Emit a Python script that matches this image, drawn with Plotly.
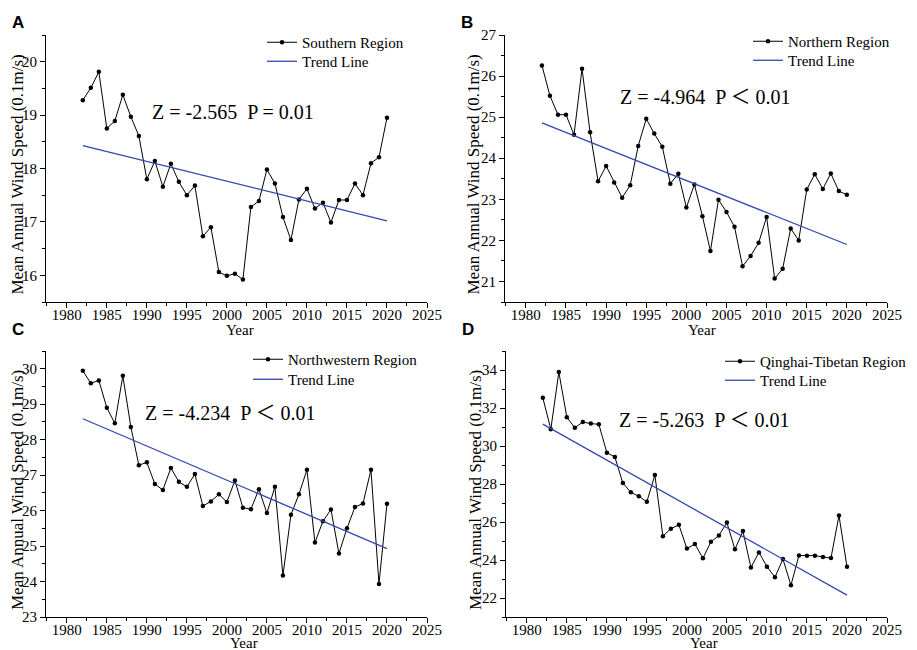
import plotly.graph_objects as go

years = list(range(1982, 2021))

southern = [19.28, 19.51, 19.81, 18.75, 18.89, 19.38, 18.97, 18.61, 17.80, 18.14,
            17.66, 18.09, 17.75, 17.50, 17.68, 16.73, 16.90, 16.06, 15.99, 16.03,
            15.92, 17.28, 17.39, 17.98, 17.72, 17.09, 16.66, 17.42, 17.62, 17.25,
            17.36, 16.99, 17.41, 17.41, 17.72, 17.50, 18.10, 18.21, 18.95]
northern = [26.26, 25.52, 25.06, 25.06, 24.57, 26.18, 24.63, 23.44, 23.81, 23.41,
            23.04, 23.34, 24.30, 24.96, 24.60, 24.28, 23.38, 23.62, 22.80, 23.36,
            22.59, 21.74, 22.99, 22.69, 22.33, 21.37, 21.62, 21.94, 22.57, 21.07,
            21.31, 22.29, 22.00, 23.24, 23.61, 23.25, 23.63, 23.20, 23.11]
northwestern = [29.94, 29.59, 29.67, 28.90, 28.46, 29.80, 28.36, 27.28, 27.36, 26.75,
                26.58, 27.20, 26.81, 26.67, 27.03, 26.13, 26.26, 26.46, 26.24, 26.85,
                26.08, 26.04, 26.60, 25.93, 26.67, 24.17, 25.88, 26.46, 27.15, 25.10,
                25.70, 26.03, 24.79, 25.50, 26.10, 26.20, 27.15, 23.93, 26.19]
qinghai = [32.54, 30.88, 33.89, 31.51, 30.96, 31.26, 31.18, 31.14, 29.65, 29.42,
           28.05, 27.56, 27.35, 27.07, 28.47, 25.25, 25.65, 25.85, 24.60, 24.84,
           24.09, 24.96, 25.29, 25.97, 24.56, 25.52, 23.60, 24.40, 23.65, 23.09,
           24.05, 22.67, 24.24, 24.23, 24.23, 24.16, 24.10, 26.34, 23.65]

trend_years = [1982, 2020]
trend_southern = [18.43, 17.02]
trend_northern = [24.86, 21.90]
trend_northwestern = [28.59, 24.93]
trend_qinghai = [31.15, 22.15]

region_names = ["Southern Region", "Northern Region", "Northwestern Region", "Qinghai-Tibetan Region"]
stat_texts = ["Z = -2.565\u00a0\u00a0P = 0.01", "Z = -4.964\u00a0\u00a0P ＜ 0.01",
              "Z = -4.234\u00a0\u00a0P ＜ 0.01", "Z = -5.263\u00a0\u00a0P ＜ 0.01"]
panel_letters = ["A", "B", "C", "D"]
x_ticks = [1980, 1985, 1990, 1995, 2000, 2005, 2010, 2015, 2020, 2025]
y_ranges = [[15.5, 20.5], [20.5, 27], [23, 30.5], [21, 35]]
y_dticks = [1, 1, 1, 2]

# the page body has an 8px margin, so the figure is drawn 8px smaller and offset
OFF = 8
W, H = 917 - OFF, 650 - OFF
SERIF = "Liberation Serif, Times New Roman, Noto Sans CJK SC, serif"
SANS = "Liberation Sans, Arial, sans-serif"
BLUE = "#3446B0"

def px(x):
    return (x - OFF) / W

def py(y):
    return 1 - (y - OFF) / H

# panel geometry in window pixels: (left, right, top, bottom)
geoms = [(46, 427, 35, 302), (505, 887, 35, 302), (46, 427, 351, 617), (506, 887, 351, 617)]

series = [southern, northern, northwestern, qinghai]
trends = [trend_southern, trend_northern, trend_northwestern, trend_qinghai]

fig = go.Figure()
layout = dict(width=W, height=H, margin=dict(l=0, r=0, t=0, b=0),
              paper_bgcolor="white", plot_bgcolor="white", showlegend=True,
              font=dict(family=SERIF, color="black"))
annotations = []

legend_x = [262, 748, 248, 720]
legend_rows = [(43, 62), (42, 61), (360, 380), (362, 381)]
ytitle_x = [17, 473, 17, 475]
year_x = [240, 702, 244, 704]
year_y = [330, 330, 643, 643]
letter_pos = [(18, 23), (467, 23), (18, 330), (468, 330)]
stat_pos = [(150, 112), (618, 97), (143, 413), (617, 420)]

for i in range(4):
    sfx = "" if i == 0 else str(i + 1)
    lg1 = "legend" + sfx
    lg2 = "legend" + str(i + 5)
    xa, ya = "x" + sfx, "y" + sfx
    fig.add_trace(go.Scatter(x=years, y=series[i], mode="lines+markers",
                             name=region_names[i], xaxis=xa, yaxis=ya, legend=lg1,
                             line=dict(color="black", width=1),
                             marker=dict(color="black", size=4.5)))
    fig.add_trace(go.Scatter(x=trend_years, y=trends[i], mode="lines",
                             name="Trend Line", xaxis=xa, yaxis=ya, legend=lg2,
                             line=dict(color=BLUE, width=1.3)))
    l, r, t, b = geoms[i]
    layout["xaxis" + sfx] = dict(domain=[px(l), px(r)], anchor=ya, range=[1977.4, 2025],
                                 tickvals=x_ticks, ticks="outside", ticklen=5, tickwidth=1,
                                 tickcolor="black", showline=True, linecolor="black",
                                 linewidth=1, showgrid=False, zeroline=False,
                                 ticklabelstandoff=-6,
                                 tickfont=dict(family=SERIF, size=15, color="black"),
                                 minor=dict(ticks="outside", ticklen=3, dtick=2.5,
                                            tick0=1977.5, tickcolor="black", showgrid=False),
                                 automargin=False, fixedrange=True)
    layout["yaxis" + sfx] = dict(domain=[py(b), py(t)], anchor=xa, range=y_ranges[i],
                                 dtick=y_dticks[i], ticks="outside", ticklen=5, tickwidth=1,
                                 tickcolor="black", showline=True, linecolor="black",
                                 linewidth=1, showgrid=False, zeroline=False,
                                 tickfont=dict(family=SERIF, size=15, color="black"),
                                 minor=dict(ticks="outside", ticklen=3, dtick=y_dticks[i] / 2,
                                            tickcolor="black", showgrid=False),
                                 automargin=False, fixedrange=True)
    for lg, row in zip((lg1, lg2), legend_rows[i]):
        layout[lg] = dict(x=px(legend_x[i]), y=py(row - 17), xanchor="left", yanchor="top",
                          bgcolor="rgba(0,0,0,0)", tracegroupgap=0, itemwidth=30,
                          font=dict(family=SERIF, size=15, color="black"))
    annotations.append(dict(text=stat_texts[i], x=px(stat_pos[i][0]), y=py(stat_pos[i][1]),
                            xref="paper", yref="paper", xanchor="left", yanchor="middle",
                            showarrow=False, font=dict(family=SERIF, size=20, color="black")))
    annotations.append(dict(text="Mean Annual Wind Speed (0.1m/s)", textangle=-90,
                            x=px(ytitle_x[i]), y=py((t + b) / 2 + 6), xref="paper", yref="paper",
                            xanchor="center", yanchor="middle", showarrow=False,
                            font=dict(family=SERIF, size=17, color="black")))
    annotations.append(dict(text="Year", x=px(year_x[i]), y=py(year_y[i]),
                            xref="paper", yref="paper", xanchor="center", yanchor="middle",
                            showarrow=False, font=dict(family=SERIF, size=15, color="black")))
    annotations.append(dict(text="<b>" + panel_letters[i] + "</b>", x=px(letter_pos[i][0]),
                            y=py(letter_pos[i][1]), xref="paper", yref="paper",
                            xanchor="center", yanchor="middle", showarrow=False,
                            font=dict(family=SANS, size=17, color="black")))

layout["annotations"] = annotations
fig.update_layout(**layout)
fig.write_html("out.html")
